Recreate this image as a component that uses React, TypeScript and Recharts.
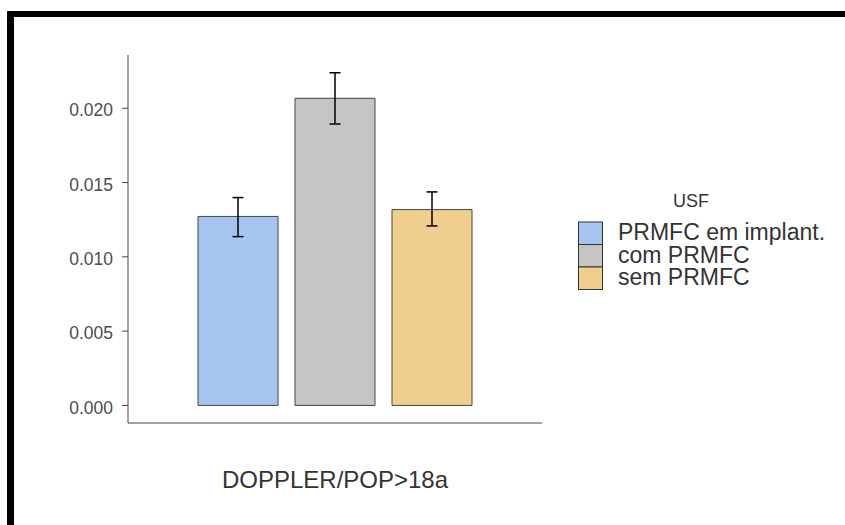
import React from 'react';
import { BarChart, Bar, XAxis, YAxis, ErrorBar, Legend } from 'recharts';

const categories = ['DOPPLER/POP>18a'];
const seriesNames = ['PRMFC em implant.', 'com PRMFC', 'sem PRMFC'];
const seriesValues = [0.01272, 0.02067, 0.01318];
const errorLow = [0.00136, 0.00173, 0.0011];
const errorHigh = [0.00127, 0.00172, 0.00119];
const yTicks = [0, 0.005, 0.01, 0.015, 0.02];
const legendTitle = 'USF';
const colors = ['#a6c4f0', '#c5c5c5', '#f0ce8e'];

const data = categories.map((c) => {
  const row: any = { cat: c };
  seriesValues.forEach((v, i) => {
    row['s' + i] = v;
    row['e' + i] = [errorLow[i], errorHigh[i]];
  });
  return row;
});

const FONT = '"Liberation Sans", Arial, sans-serif';

const LegendContent = () => (
  <svg width={270} height={110} style={{ display: 'block' }}>
    <text x={121} y={21.7} textAnchor="middle" fontSize={18} fontFamily={FONT} fill="#333">
      {legendTitle}
    </text>
    {seriesNames.map((n, i) => (
      <g key={n}>
        <rect x={8.5} y={37 + i * 22.5} width={24} height={22.5} fill={colors[i]} stroke="#333" strokeWidth={1} />
        <text x={48} y={55 + i * 22.6} fontSize={23} fontFamily={FONT} fill="#333">
          {n}
        </text>
      </g>
    ))}
  </svg>
);

export default function App() {
  return (
    <div style={{ position: 'absolute', left: 0, top: 0, width: 845, height: 525, background: '#fff', overflow: 'hidden' }}>
      <BarChart
        width={845}
        height={525}
        data={data}
        margin={{ top: 55, right: 303, bottom: 32, left: 0 }}
        barSize={80}
        barGap={17}
        style={{ fontFamily: FONT }}
      >
        <XAxis
          dataKey="cat"
          height={70}
          tick={false}
          tickLine={{ stroke: '#444', strokeWidth: 1.5 }}
          tickSize={5}
          axisLine={{ stroke: '#444', strokeWidth: 1 }}
          label={{ value: categories[0], position: 'insideBottom', offset: 5, fontSize: 24, fill: '#333', fontFamily: FONT }}
        />
        <YAxis
          type="number"
          width={128}
          domain={[-0.001184, 0.023585]}
          allowDataOverflow
          ticks={yTicks}
          interval={0}
          tickFormatter={(v: number) => v.toFixed(3)}
          tickSize={6}
          tickMargin={9}
          tick={{ fontSize: 17.5, fill: '#4d4d4d', fontFamily: FONT, dy: 2 }}
          tickLine={{ stroke: '#444', strokeWidth: 1 }}
          axisLine={{ stroke: '#444', strokeWidth: 1 }}
        />
        {seriesNames.map((n, i) => (
          <Bar key={n} dataKey={'s' + i} name={n} fill={colors[i]} stroke="#444" strokeWidth={1} isAnimationActive={false}>
            <ErrorBar dataKey={'e' + i} width={5.5} stroke="#000" strokeWidth={1.5} isAnimationActive={false} />
          </Bar>
        ))}
        <Legend
          layout="vertical"
          align="center"
          verticalAlign="middle"
          content={<LegendContent />}
          wrapperStyle={{ left: 570, top: 185, width: 270, height: 110 }}
        />
      </BarChart>
      <div style={{ position: 'absolute', left: 7, top: 11, width: 838, height: 6, background: '#000' }} />
      <div style={{ position: 'absolute', left: 7, top: 11, width: 7, height: 514, background: '#000' }} />
    </div>
  );
}
